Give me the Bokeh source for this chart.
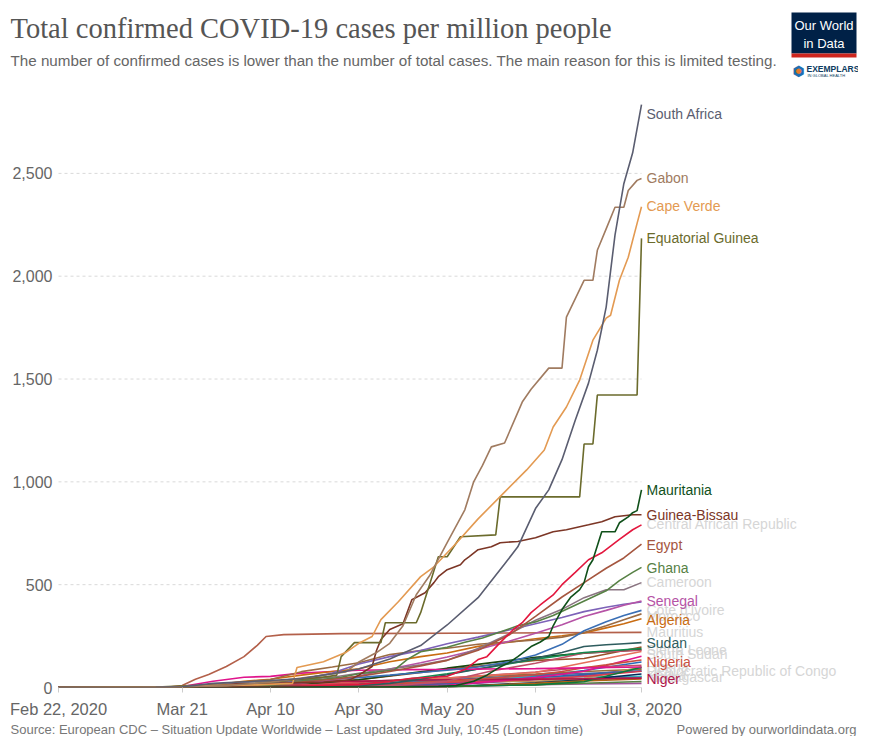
from datetime import datetime, timedelta
from bokeh.plotting import figure
from bokeh.layouts import column
from bokeh.models import Label, FixedTicker, Range1d, ColumnDataSource, NumeralTickFormatter
from bokeh.embed import file_html
from bokeh.resources import INLINE

START = datetime(2020, 2, 22)
END = datetime(2020, 7, 3)

TITLE = "Total confirmed COVID-19 cases per million people"
SUBTITLE = ("The number of confirmed cases is lower than the number of total cases. "
            "The main reason for this is limited testing.")
SOURCE = "Source: European CDC \u2013 Situation Update Worldwide \u2013 Last updated 3rd July, 10:45 (London time)"
CREDIT = "Powered by ourworldindata.org"

Y_TICKS = [0, 500, 1000, 1500, 2000, 2500]
X_TICK_DAYS = [0, 28, 48, 68, 88, 108, 132]
X_TICK_LABELS = ["Feb 22, 2020", "Mar 21", "Apr 10", "Apr 30", "May 20", "Jun 9", "Jul 3, 2020"]

# ---- data: days since Feb 22, 2020 and confirmed cases per million ----
SA_DAYS = [0, 12, 22, 28, 35, 41, 48, 55, 62, 68, 75, 82, 88, 95, 101, 104, 108, 111, 114, 117, 120, 122, 124, 126, 128, 130, 132]
SA_VALS = [0, 0, 0.4, 4, 20, 27, 34, 44, 67, 90, 139, 204, 304, 437, 600, 684, 870, 961, 1108, 1300, 1480, 1640, 1850, 2200, 2450, 2600, 2834]

GABON_DAYS = [0, 19, 28, 38, 48, 58, 65, 68, 72, 75, 78, 81, 84, 88, 92, 94, 96, 98, 101, 105, 107, 111, 114, 115, 119, 121, 122, 124, 126, 128, 129, 131, 132]
GABON_VALS = [0, 0.5, 2.7, 9, 26, 54, 75, 124, 170, 215, 300, 451, 543, 704, 864, 1000, 1080, 1170, 1189, 1388, 1450, 1553, 1553, 1801, 1980, 1980, 2126, 2230, 2335, 2335, 2417, 2466, 2475]

CAPE_VERDE_DAYS = [0, 26, 35, 45, 53, 54, 60, 65, 68, 71, 73, 77, 82, 85, 90, 95, 101, 106, 110, 112, 115, 118, 121, 124, 125, 127, 129, 130, 131, 132]
CAPE_VERDE_VALS = [0, 2, 9, 13, 20, 97, 125, 170, 215, 248, 330, 418, 539, 587, 700, 820, 950, 1058, 1155, 1267, 1364, 1495, 1689, 1796, 1810, 1980, 2092, 2175, 2257, 2338]

EQ_GUINEA_DAYS = [0, 20, 21, 30, 40, 50, 61, 63, 64, 67, 73, 74, 81, 82, 86, 88, 91, 99, 100, 118, 119, 121, 122, 131, 132]
EQ_GUINEA_VALS = [0, 0, 0.7, 9, 11, 30, 53, 60, 150, 218, 218, 315, 315, 364, 636, 636, 733, 742, 927, 927, 1184, 1184, 1422, 1422, 2184]

MAURITANIA_DAYS = [0, 22, 40, 60, 80, 86, 90, 94, 97, 100, 102, 104, 107, 109, 111, 112, 114, 116, 118, 119, 120, 121, 123, 126, 127, 129, 130, 131, 132]
MAURITANIA_VALS = [0, 0.5, 1.5, 1.7, 2, 5, 10, 30, 60, 100, 121, 150, 199, 220, 248, 300, 379, 440, 476, 510, 587, 621, 757, 757, 801, 830, 850, 860, 961]

GUINEA_BISSAU_DAYS = [0, 32, 40, 50, 60, 66, 68, 71, 72, 73, 75, 78, 80, 83, 85, 86, 88, 91, 92, 93, 95, 98, 100, 104, 108, 112, 115, 120, 123, 126, 130, 132]
GUINEA_BISSAU_VALS = [0, 0, 17, 20, 27, 37, 60, 102, 180, 233, 282, 310, 427, 461, 510, 539, 573, 597, 621, 636, 670, 684, 704, 710, 728, 757, 767, 791, 806, 830, 840, 840]

CAR_DAYS = [0, 22, 40, 50, 60, 68, 75, 80, 85, 88, 92, 95, 97, 100, 103, 105, 107, 109, 112, 114, 117, 120, 123, 127, 130, 132]
CAR_VALS = [0, 0.2, 2, 3, 10, 14, 30, 45, 50, 55, 87, 136, 150, 218, 282, 315, 364, 400, 450, 500, 560, 621, 655, 720, 767, 791]

STD_DAYS = [0, 20, 28, 35, 42, 48, 55, 62, 68, 75, 82, 88, 95, 102, 108, 114, 119, 124, 128, 132]
EGYPT_VALS = [0, 0.5, 2.9, 6.5, 11.6, 17.5, 27, 40, 54, 78, 105, 132, 181, 255, 346, 440, 510, 580, 630, 697]
SENEGAL_VALS = [0, 0.1, 2.8, 8, 14, 16, 22, 35, 56, 90, 120, 148, 185, 225, 264, 305, 345, 375, 400, 421]
GUINEA_VALS = [0, 0, 0.15, 4, 10, 16, 40, 70, 114, 150, 180, 213, 245, 280, 310, 340, 369, 390, 405, 416]
COTE_DIVOIRE_VALS = [0, 0.04, 0.5, 7, 15, 20, 32, 40, 48, 60, 73, 84, 100, 125, 158, 210, 276, 320, 350, 375]
ALGERIA_VALS = [0, 0.5, 3.2, 12, 30, 40, 60, 78, 91, 125, 150, 168, 200, 220, 237, 252, 265, 290, 310, 334]
CAMEROON_VALS = [0, 0.04, 1.5, 10, 25, 31, 38, 50, 69, 90, 110, 133, 190, 260, 327, 380, 437, 475, 475, 510]
MOROCCO_VALS = [0, 0.05, 3, 15, 27, 39, 77, 100, 120, 160, 180, 191, 210, 222, 231, 245, 267, 300, 330, 358]

GHANA_DAYS = [0, 20, 28, 35, 42, 48, 52, 56, 60, 64, 68, 72, 76, 79, 82, 85, 88, 92, 96, 100, 104, 108, 112, 116, 120, 124, 127, 130, 132]
GHANA_VALS = [0, 0, 0.6, 5, 9, 12, 20, 35, 40, 50, 67, 75, 85, 137, 174, 185, 196, 220, 241, 270, 300, 319, 350, 390, 430, 470, 520, 560, 584]

MAURITIUS_DAYS = [0, 25, 28, 31, 34, 38, 42, 45, 47, 51, 64, 132]
MAURITIUS_VALS = [0, 2.4, 10, 40, 63, 102, 150, 205, 248, 257, 262, 268]

TUNISIA_DAYS = [0, 22, 28, 35, 42, 48, 55, 62, 68, 80, 88, 108, 132]
TUNISIA_VALS = [0, 0.1, 4.6, 30, 50, 54, 70, 78, 84, 87, 88, 92, 100]

SUDAN_DAYS = [0, 20, 28, 48, 60, 68, 75, 82, 88, 95, 102, 108, 114, 119, 124, 128, 132]
SUDAN_VALS = [0, 0, 0.02, 0.3, 3, 8.6, 20, 40, 62, 90, 118, 142, 170, 199, 208, 213, 218]

NIGERIA_DAYS = [0, 6, 28, 38, 48, 58, 68, 78, 88, 98, 108, 114, 119, 124, 128, 132]
NIGERIA_VALS = [0, 0, 0.1, 0.5, 1.5, 4, 9.4, 20, 31, 45, 62, 78, 96, 110, 122, 134]

NIGER_DAYS = [0, 26, 35, 42, 48, 55, 62, 68, 78, 88, 108, 132]
NIGER_VALS = [0, 0.05, 3, 9, 17, 28, 30, 30, 35, 38, 40, 45]

SPARSE_DAYS = [0, 38, 48, 58, 68, 78, 88, 98, 108, 119, 132]
SIERRA_LEONE_VALS = [0, 0.1, 1, 5, 14.5, 38, 67, 100, 138, 170, 190]
SOUTH_SUDAN_VALS = [0, 0, 0.4, 0.6, 3, 12, 30, 80, 118, 168, 181]

MINOR_DAYS = [0, 20, 28, 48, 68, 88, 108, 119, 132]
KENYA_VALS = [0, 0, 0.1, 3.5, 7.4, 19, 53, 83, 124]
ETHIOPIA_VALS = [0, 0, 0.1, 0.6, 1.1, 3.2, 19, 35, 53]
MADAGASCAR_VALS = [0, 0, 0.1, 3.4, 4.6, 12, 38, 59, 91]
MALI_VALS = [0, 0, 0, 4.3, 24, 46, 75, 97, 108]
ZAMBIA_VALS = [0, 0, 0.1, 2.2, 5.8, 45, 65, 78, 89]
CHAD_VALS = [0, 0, 0.06, 0.7, 4.4, 32, 51, 52, 53]
BURKINA_FASO_VALS = [0, 0, 3.5, 21, 31, 39, 42, 43, 47]
BENIN_VALS = [0, 0, 0.1, 2.9, 7.4, 28, 30, 44, 99]
TOGO_VALS = [0, 0, 1.1, 9, 14, 36, 60, 68, 80]
CONGO_VALS = [0, 0, 0.6, 11, 38, 88, 132, 141, 197]
DRC_VALS = [0, 0, 0.2, 2.4, 6.4, 19, 48, 63, 80]
LIBERIA_VALS = [0, 0, 0.4, 6, 28, 46, 73, 120, 175]
SOMALIA_VALS = [0, 0, 0.06, 1.3, 38, 94, 147, 167, 184]
UGANDA_VALS = [0, 0, 0.02, 1.2, 1.8, 5, 14, 17, 20]
MALAWI_VALS = [0, 0, 0, 0.5, 1.9, 3.7, 23, 38, 66]
RWANDA_VALS = [0, 0, 1.3, 9, 19, 24, 39, 54, 79]
MOZAMBIQUE_VALS = [0, 0, 0.03, 0.6, 2.4, 4.6, 14, 21, 29]
ZIMBABWE_VALS = [0, 0, 0.07, 0.7, 2.7, 3, 21, 32, 41]
LIBYA_VALS = [0, 0, 0, 3.5, 8.9, 10, 48, 79, 152]
NAMIBIA_VALS = [0, 0, 1.2, 6.3, 6.3, 6.3, 12.6, 28, 98]

# ---- series: name, days, values, colour, label position (value units) or None, faded label ----
MINOR = [
    ("Kenya", MINOR_DAYS, KENYA_VALS, "#286bbb", 60, True),
    ("Ethiopia", MINOR_DAYS, ETHIOPIA_VALS, "#00847e", None, False),
    ("Madagascar", MINOR_DAYS, MADAGASCAR_VALS, "#6d3e91", 52, True),
    ("Mali", MINOR_DAYS, MALI_VALS, "#c15065", None, False),
    ("Zambia", MINOR_DAYS, ZAMBIA_VALS, "#996d39", None, False),
    ("Chad", MINOR_DAYS, CHAD_VALS, "#38aaba", None, False),
    ("Burkina Faso", MINOR_DAYS, BURKINA_FASO_VALS, "#8c4569", None, False),
    ("Benin", MINOR_DAYS, BENIN_VALS, "#bc8e5a", None, False),
    ("Togo", MINOR_DAYS, TOGO_VALS, "#4c6a9c", None, False),
    ("Congo", MINOR_DAYS, CONGO_VALS, "#9a5129", None, False),
    ("Democratic Republic of Congo", MINOR_DAYS, DRC_VALS, "#3360a9", 78, True),
    ("Liberia", MINOR_DAYS, LIBERIA_VALS, "#e56e5a", 100, True),
    ("Somalia", MINOR_DAYS, SOMALIA_VALS, "#18470f", None, False),
    ("Uganda", MINOR_DAYS, UGANDA_VALS, "#a2559c", None, False),
    ("Malawi", MINOR_DAYS, MALAWI_VALS, "#00295b", None, False),
    ("Rwanda", MINOR_DAYS, RWANDA_VALS, "#d73c50", None, False),
    ("Mozambique", MINOR_DAYS, MOZAMBIQUE_VALS, "#578145", None, False),
    ("Zimbabwe", MINOR_DAYS, ZIMBABWE_VALS, "#b16214", None, False),
    ("Libya", MINOR_DAYS, LIBYA_VALS, "#e0148c", None, False),
    ("Namibia", MINOR_DAYS, NAMIBIA_VALS, "#0f7a3a", None, False),
]

MAJOR = [
    ("Niger", NIGER_DAYS, NIGER_VALS, "#b0164b", 39, False),
    ("Nigeria", NIGERIA_DAYS, NIGERIA_VALS, "#c94f3f", 126, False),
    ("South Sudan", SPARSE_DAYS, SOUTH_SUDAN_VALS, "#c0506a", 165, True),
    ("Sierra Leone", SPARSE_DAYS, SIERRA_LEONE_VALS, "#138a4e", 184, True),
    ("Sudan", SUDAN_DAYS, SUDAN_VALS, "#2e5c5e", 214, False),
    ("Tunisia", TUNISIA_DAYS, TUNISIA_VALS, "#e0148c", None, False),
    ("Mauritius", MAURITIUS_DAYS, MAURITIUS_VALS, "#b3604a", 272, True),
    ("Algeria", STD_DAYS, ALGERIA_VALS, "#c96c12", 330, False),
    ("Morocco", STD_DAYS, MOROCCO_VALS, "#9b6b43", 350, True),
    ("Côte d'Ivoire", STD_DAYS, COTE_DIVOIRE_VALS, "#3a6fb5", 379, True),
    ("Guinea", STD_DAYS, GUINEA_VALS, "#7d62b8", None, False),
    ("Senegal", STD_DAYS, SENEGAL_VALS, "#b653a6", 422, False),
    ("Cameroon", STD_DAYS, CAMEROON_VALS, "#8a7481", 515, True),
    ("Ghana", GHANA_DAYS, GHANA_VALS, "#578145", 582, False),
    ("Egypt", STD_DAYS, EGYPT_VALS, "#a5563f", 694, False),
    ("Central African Republic", CAR_DAYS, CAR_VALS, "#e3173e", 796, True),
    ("Guinea-Bissau", GUINEA_BISSAU_DAYS, GUINEA_BISSAU_VALS, "#7c3626", 840, False),
    ("Mauritania", MAURITANIA_DAYS, MAURITANIA_VALS, "#10501a", 961, False),
    ("Equatorial Guinea", EQ_GUINEA_DAYS, EQ_GUINEA_VALS, "#6b6b2c", 2184, False),
    ("Cape Verde", CAPE_VERDE_DAYS, CAPE_VERDE_VALS, "#e39a52", 2340, False),
    ("Gabon", GABON_DAYS, GABON_VALS, "#a07b60", 2476, False),
    ("South Africa", SA_DAYS, SA_VALS, "#5a5d70", 2791, False),
]

SANS = "Liberation Sans"
SERIF = "Liberation Serif"
FADED = "#d6d6d6"
W = 858


def to_dates(days):
    return [START + timedelta(days=d) for d in days]


def to_ms(d):
    return int((d - datetime(1970, 1, 1)).total_seconds() * 1000)


def blank_fig(height):
    f = figure(width=W, height=height, output_backend="svg", toolbar_location=None,
               x_range=Range1d(0, W), y_range=Range1d(height, 0),
               x_axis_location=None, y_axis_location=None,
               min_border_left=0, min_border_right=0, min_border_top=0, min_border_bottom=0)
    f.grid.visible = False
    f.outline_line_color = None
    f.background_fill_color = "white"
    f.border_fill_color = "white"
    return f


# ---------------- header (coordinates = page pixels) ----------------
head = blank_fig(100)
head.add_layout(Label(x=10, y=27.5, text=TITLE, text_font=SERIF, text_font_size="28.5px",
                      text_color="#555555", text_baseline="middle"))
head.add_layout(Label(x=10, y=60, text=SUBTITLE, text_font=SANS, text_font_size="15.2px",
                      text_color="#666666", text_baseline="middle"))
head.quad(left=[791], right=[856], top=[12], bottom=[53], fill_color="#002147", line_color=None)
head.quad(left=[791], right=[856], top=[53], bottom=[57], fill_color="#ce261e", line_color=None)
head.add_layout(Label(x=823.5, y=25, text="Our World", text_font=SANS, text_font_size="13px",
                      text_color="white", text_align="center", text_baseline="middle"))
head.add_layout(Label(x=823.5, y=43, text="in Data", text_font=SANS, text_font_size="13px",
                      text_color="white", text_align="center", text_baseline="middle"))
head.add_layout(Label(x=798, y=70, text="\u2b22", text_font="DejaVu Sans", text_font_size="14px",
                      text_color="#1f6fb2", text_align="center", text_baseline="middle"))
head.add_layout(Label(x=798, y=70, text="\u25cf", text_font="DejaVu Sans", text_font_size="7px",
                      text_color="#e8792b", text_align="center", text_baseline="middle"))
head.add_layout(Label(x=806, y=68, text="EXEMPLARS", text_font=SANS, text_font_size="8.5px",
                      text_font_style="bold", text_color="#0d3c61", text_baseline="middle"))
head.add_layout(Label(x=807, y=75, text="IN GLOBAL HEALTH", text_font=SANS, text_font_size="4px",
                      text_color="#0d3c61", text_baseline="middle"))

# ---------------- main chart ----------------
PX_PER_DAY = 583 / 132
x_start = START - timedelta(days=58 / PX_PER_DAY)
x_end = END + timedelta(days=(W - 641) / PX_PER_DAY)
y_top = 588 * 500 / 103

p = figure(width=W, height=620, x_axis_type="datetime",
           output_backend="svg", toolbar_location=None,
           x_range=Range1d(x_start, x_end), y_range=Range1d(0, y_top),
           min_border_left=0, min_border_right=0,
           min_border_top=0, min_border_bottom=32)
p.outline_line_color = None
p.background_fill_color = "white"
p.border_fill_color = "white"
p.grid.visible = False

# y axis: labels pulled inside the plot area so that they sit left of the data period
p.yaxis.ticker = FixedTicker(ticks=Y_TICKS)
p.yaxis.formatter = NumeralTickFormatter(format="0,0")
p.yaxis.axis_line_color = None
p.yaxis.major_tick_line_color = None
p.yaxis.minor_tick_line_color = None
p.yaxis.major_tick_in = 0
p.yaxis.major_tick_out = 0
p.yaxis.minor_tick_in = 0
p.yaxis.minor_tick_out = 0
p.yaxis.major_label_standoff = -52
p.yaxis.major_label_text_font = SANS
p.yaxis.major_label_text_font_size = "16px"
p.yaxis.major_label_text_color = "#666666"

tick_ms = [to_ms(d) for d in to_dates(X_TICK_DAYS)]
p.xaxis.ticker = FixedTicker(ticks=tick_ms)
p.xaxis.major_label_overrides = {ms: lab for ms, lab in zip(tick_ms, X_TICK_LABELS)}
p.xaxis.axis_line_color = None
p.xaxis.major_tick_line_color = "#cccccc"
p.xaxis.major_tick_in = 0
p.xaxis.major_tick_out = 5
p.xaxis.minor_tick_line_color = None
p.xaxis.minor_tick_out = 0
p.xaxis.major_label_standoff = 7
p.xaxis.major_label_text_font = SANS
p.xaxis.major_label_text_font_size = "16.5px"
p.xaxis.major_label_text_color = "#666666"

# horizontal grid lines and baseline spanning the data period only
grid_y = Y_TICKS[1:]
p.segment(x0=[START] * len(grid_y), x1=[END] * len(grid_y), y0=grid_y, y1=grid_y,
          line_color="#d9d9d9", line_dash="3 3", line_width=1)
p.segment(x0=[START], x1=[END], y0=[0], y1=[0], line_color="#bbbbbb", line_width=1)

for name, days, vals, color, ly, faded in MINOR + MAJOR:
    src = ColumnDataSource(dict(x=to_dates(days), y=vals))
    p.line("x", "y", source=src, line_color=color, line_width=1.6)

for want_faded in (True, False):
    for name, days, vals, color, ly, faded in MINOR + MAJOR:
        if ly is None or faded != want_faded:
            continue
        p.add_layout(Label(x=END, y=ly, x_offset=5, text=name,
                           text_font=SANS, text_font_size="14px",
                           text_color=FADED if faded else color,
                           text_baseline="middle", text_align="left"))

# ---------------- footer ----------------
foot = blank_fig(16)
foot.add_layout(Label(x=10, y=8.5, text=SOURCE, text_font=SANS, text_font_size="13px",
                      text_color="#777777", text_baseline="middle"))
foot.add_layout(Label(x=856, y=8.5, text=CREDIT, text_font=SANS, text_font_size="13px",
                      text_color="#777777", text_baseline="middle", text_align="right"))

layout = column(head, p, foot, spacing=0)
open("out.html", "w").write(file_html(layout, INLINE))
